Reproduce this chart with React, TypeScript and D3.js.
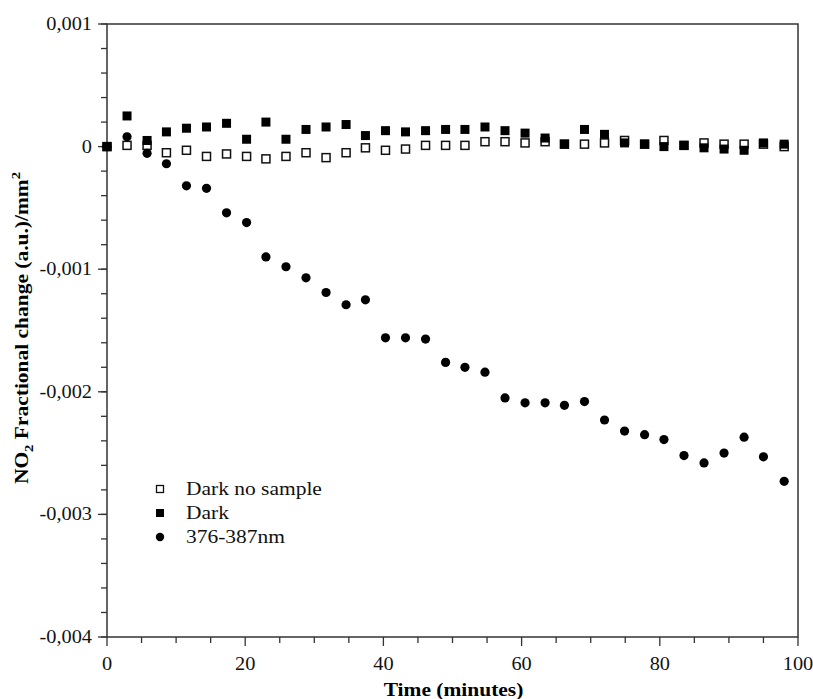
import React, { useEffect } from 'react';
import * as d3 from 'd3';

// time of each measurement (minutes)
const times = [0, 2.9, 5.8, 8.6, 11.5, 14.4, 17.3, 20.2, 23.0, 25.9, 28.8, 31.7, 34.6, 37.4, 40.3, 43.2, 46.1, 49.0,
  51.8, 54.7, 57.6, 60.5, 63.4, 66.2, 69.1, 72.0, 74.9, 77.8, 80.6, 83.5, 86.4, 89.3, 92.2, 95.0, 98.0];

const darkNoSample = [0, 0.00001, 0.00001, -0.00005, -0.00003, -0.00008, -0.00006, -0.00008, -0.0001, -0.00008,
  -0.00005, -0.00009, -0.00005, -0.00001, -0.00003, -0.00002, 0.00001, 0.00001, 0.00001, 0.00004, 0.00004,
  0.00003, 0.00004, 0.00002, 0.00002, 0.00003, 0.00005, 0.00002, 0.00005, 0.00001, 0.00003, 0.00002, 0.00002,
  0.00002, 0.0];

const dark = [0, 0.00025, 0.00005, 0.00012, 0.00015, 0.00016, 0.00019, 0.00006, 0.0002, 0.00006, 0.00014,
  0.00016, 0.00018, 0.00009, 0.00013, 0.00012, 0.00013, 0.00014, 0.00014, 0.00016, 0.00013, 0.00011, 0.00007,
  0.00002, 0.00014, 0.0001, 0.00003, 0.00002, 0.0, 0.00001, -0.00001, -0.00002, -0.00003, 0.00003, 0.00002];

const uv = [0, 0.00008, -0.000055, -0.00014, -0.00032, -0.00034, -0.00054, -0.00062, -0.0009, -0.00098, -0.00107,
  -0.00119, -0.00129, -0.00125, -0.00156, -0.00156, -0.00157, -0.00176, -0.0018, -0.00184, -0.00205, -0.00209,
  -0.00209, -0.00211, -0.00208, -0.00223, -0.00232, -0.00235, -0.00239, -0.00252, -0.00258, -0.0025, -0.00237,
  -0.00253, -0.00273];

const yTicks = [0.001, 0, -0.001, -0.002, -0.003, -0.004];
const xTicks = [0, 20, 40, 60, 80, 100];
const legendLabels = ['Dark no sample', 'Dark', '376-387nm'];

const W = 813, H = 699;
const left = 107, right = 798, top = 24, bottom = 637;
const font = 'Liberation Serif, Times New Roman, serif';
const stretch = 1.13; // the original text is a little wider than Times

const fmt = (v: number) => (v === 0 ? '0' : d3.format('.3f')(v).replace('.', ',').replace('−', '-'));

export default function App() {
  useEffect(() => {
    document.body.style.margin = '0';
  }, []);

  const x = d3.scaleLinear().domain([0, 100]).range([left, right]);
  const y = d3.scaleLinear().domain([-0.004, 0.001]).range([bottom, top]);
  const yMinor = d3.range(-0.004, 0.001 + 1e-9, 0.0002);
  const xMinor = d3.range(0, 101, 5);
  const axisColor = '#333';
  const sq = 9;
  const osq = 8;

  return (
    <svg width={W} height={H} style={{ display: 'block', background: '#fff', fontFamily: font }}>
      {/* frame */}
      <rect x={left} y={top} width={right - left} height={bottom - top} fill="none" stroke={axisColor} strokeWidth={1.5} />

      {/* y ticks */}
      {yMinor.map((v, i) => (
        <line key={'ym' + i} x1={left - 6} x2={left} y1={y(v)} y2={y(v)} stroke={axisColor} strokeWidth={1.3} />
      ))}
      {yTicks.map((v) => (
        <g key={'y' + v}>
          <line x1={left - 9} x2={left} y1={y(v)} y2={y(v)} stroke={axisColor} strokeWidth={1.3} />
          <g transform={`translate(${left - 15},${y(v) + 6}) scale(${stretch},1)`}>
            <text textAnchor="end" fontSize={18} fill="#111">{fmt(v)}</text>
          </g>
        </g>
      ))}

      {/* x ticks */}
      {xMinor.map((v) => (
        <line key={'xm' + v} x1={x(v)} x2={x(v)} y1={bottom} y2={bottom + (v % 20 === 0 ? 9 : 6)} stroke={axisColor} strokeWidth={1.3} />
      ))}
      {xTicks.map((v) => (
        <g key={'x' + v} transform={`translate(${x(v)},${bottom + 33}) scale(${stretch},1)`}>
          <text textAnchor="middle" fontSize={18} fill="#111">{v}</text>
        </g>
      ))}

      {/* axis titles */}
      <g transform={`translate(${(left + right) / 2 + 1},696) scale(${stretch},1)`}>
        <text textAnchor="middle" fontSize={19} fontWeight="bold">Time (minutes)</text>
      </g>
      <g transform={`translate(28, 328) rotate(-90) scale(${stretch},1)`}>
        <text textAnchor="middle" fontSize={19} fontWeight="bold">
          NO<tspan fontSize={13} dy={5}>2</tspan>
          <tspan dy={-5}> Fractional change (a.u.)/mm</tspan>
          <tspan fontSize={13} dy={-8}>2</tspan>
        </text>
      </g>

      {/* series */}
      {darkNoSample.map((v, i) => (
        <rect key={'o' + i} x={x(times[i]) - osq / 2} y={y(v) - osq / 2} width={osq} height={osq} fill="#fff" stroke="#111" strokeWidth={1.5} />
      ))}
      {dark.map((v, i) => (
        <rect key={'f' + i} x={x(times[i]) - sq / 2} y={y(v) - sq / 2} width={sq} height={sq} fill="#000" />
      ))}
      {uv.map((v, i) => (
        <circle key={'c' + i} cx={x(times[i])} cy={y(v)} r={4.6} fill="#000" />
      ))}

      {/* legend */}
      {legendLabels.map((t, i) => {
        const ly = 489 + i * 24;
        return (
          <g key={t}>
            {i === 0 && <rect x={156.5} y={ly - 3.5} width={7} height={7} fill="#fff" stroke="#111" strokeWidth={1.3} />}
            {i === 1 && <rect x={156} y={ly - 4} width={8} height={8} fill="#000" />}
            {i === 2 && <circle cx={160} cy={ly} r={4.2} fill="#000" />}
            <g transform={`translate(186,${ly + 6}) scale(${stretch},1)`}>
              <text fontSize={19} fill="#111">{t}</text>
            </g>
          </g>
        );
      })}
    </svg>
  );
}
